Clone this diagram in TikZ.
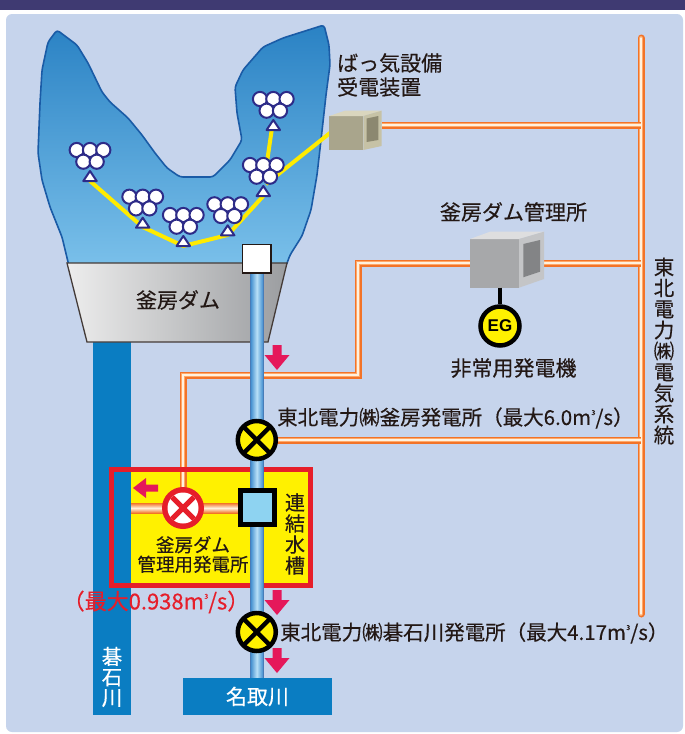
\documentclass[tikz,border=0pt]{standalone}
\usepackage{fontspec}
\setmainfont{Noto Sans CJK JP}[FakeBold=0.4]
\newfontfamily\latinsans{Liberation Sans}
\usetikzlibrary{calc}

\definecolor{topbar}{HTML}{3F3A72}
\definecolor{panel}{HTML}{C6D4EC}
\definecolor{ink}{HTML}{231815}
\definecolor{river}{HTML}{0A7DC2}
\definecolor{resTop}{HTML}{2A82C4}
\definecolor{resBot}{HTML}{7AC0EA}
\definecolor{resEdge}{HTML}{1A5BA6}
\definecolor{damL}{HTML}{EDEDED}
\definecolor{damR}{HTML}{9B9DA0}
\definecolor{pipeEdge}{HTML}{3C8ACD}
\definecolor{pipeCore}{HTML}{B8E0F7}
\definecolor{plOuter}{HTML}{F27328}
\definecolor{plMid}{HTML}{FFA868}
\definecolor{plCore}{HTML}{FFF1DE}
\definecolor{alarmred}{HTML}{E5185A}
\definecolor{sigyellow}{HTML}{FFF100}
\definecolor{framered}{HTML}{E61E2A}
\definecolor{wire}{HTML}{FFEB00}
\definecolor{aerNavy}{HTML}{2D2B88}
\definecolor{tankblue}{HTML}{8ED3F1}

% cubic metre sign
\newcommand\cubm{m\kern0.02em\raisebox{0.48em}{\scriptsize 3}}

\tikzset{
  powerline/.style={line width=7pt, draw=plOuter,
    postaction={draw=plMid, line width=4pt},
    postaction={draw=plCore, line width=1.4pt}},
  lbl/.style={text=ink, inner sep=0pt, font=\fontsize{21}{24}\selectfont},
  vert/.style={inner sep=0pt, align=center, font=\fontsize{20.5}{21}\selectfont},
  aerator/.pic={
    \foreach \p in {(-13.3,0),(0,0),(13.3,0),(-6.7,11.7),(6.7,11.7)}
      \filldraw[fill=white, draw=aerNavy, line width=2pt] \p circle[radius=7.1pt];
    \filldraw[fill=white, draw=aerNavy, line width=2pt, line join=round]
      (0,21) -- (6.7,31) -- (-6.7,31) -- cycle;
  },
  downarr/.pic={
    \fill[alarmred] (-4.5,0) -- (4.5,0) -- (4.5,10) -- (12.5,10) -- (0,25)
      -- (-12.5,10) -- (-4.5,10) -- cycle;
  },
  leftarr/.pic={
    \fill[alarmred] (0,-3.5) -- (0,3.5) -- (-12,3.5) -- (-12,10) -- (-25,0)
      -- (-12,-10) -- (-12,-3.5) -- cycle;
  },
  xgen/.pic={
    \fill[sigyellow] (0,0) circle[radius=19pt];
    \draw[black, line width=4.5pt] (-13.4,-13.4) -- (13.4,13.4) (-13.4,13.4) -- (13.4,-13.4);
    \draw[black, line width=4.5pt] (0,0) circle[radius=19pt];
  },
  redgen/.pic={
    \fill[framered] (0,0) circle[radius=21pt];
    \fill[white] (0,0) circle[radius=15.5pt];
    \draw[framered, line width=5pt] (-11,-11) -- (11,11) (-11,11) -- (11,-11);
  }
}

\begin{document}
\begin{tikzpicture}[x=1pt, y=-1pt]
\useasboundingbox (0,0) rectangle (685,734);

% frame
\fill[white] (0,0) rectangle (685,734);
\fill[topbar] (0,0) rectangle (685,9.5);
\fill[panel, rounded corners=6pt] (6,14) rectangle (683,732);

% key points
\coordinate (busT) at (641,38);
\coordinate (busB) at (641,614);
\coordinate (recvR) at (382,125);
\coordinate (officeR) at (544,263);
\coordinate (officeL) at (470,263);
\coordinate (gen1) at (256.8,440);
\coordinate (gen2) at (256.8,632);
\coordinate (mgen) at (183,508);
\coordinate (tank) at (257.5,507.5);
\coordinate (intake) at (256.8,258.5);

% Goishi river
\fill[river] (93,342) rectangle (131,715);
\node[vert, text=white, font=\fontsize{20.5}{20.5}\selectfont] (goishi) at (112,677) {碁\\石\\川};

% yellow plant box
\fill[sigyellow] (131,469) rectangle (311,586);

% power lines
\draw[powerline, line cap=round] (busT) -- (busB);
\draw[powerline] (recvR) -- (recvR -| busT);
\draw[powerline] (officeR) -- (officeR -| busT);
\draw[powerline] (officeL) -- (358,263) -- (358,375) -- (183,375) -- (mgen);
\draw[powerline] (gen1) -- (gen1 -| busT);

% pipe from connection tank to management generator
\path[top color=plOuter, bottom color=plOuter, middle color=plCore] (131,503) rectangle (240,513);

% red frame
\draw[framered, line width=5pt] (111.8,469.2) rectangle (310.8,585.8);
\pic (mgenpic) at (mgen) {redgen};
\pic (arrL) at (158,488) {leftarr};

% reservoir
\path[top color=resTop, bottom color=resBot, draw=resEdge, line width=1.6pt, rounded corners=3pt]
  (57,30) -- (77,45) -- (88,63) -- (102,92) -- (110,102) -- (128,118) -- (142,135)
  -- (155,153) -- (167,168) -- (180,177) -- (213,177) -- (230,160) -- (242,140)
  -- (237,113) -- (235,87) -- (243,70) -- (263,47) -- (283,38) -- (324,25)
  -- (329,45) -- (330,65) -- (326,95) -- (321,140) -- (317,175) -- (311,210)
  -- (302,236) -- (290,255) -- (286,266) -- (69,266) -- (62,237) -- (50,207)
  -- (42,180) -- (38,153) -- (40,103) -- (42,70) -- (48,42) -- cycle;

% aeration wiring
\draw[wire, line width=4pt, line join=round]
  (90,181) -- (142.7,227) -- (183.3,246) -- (227.7,235) -- (263.3,196);
\draw[wire, line width=4pt] (272,128) -- (267,162);
\draw[wire, line width=4pt] (266,184) -- (335,129);

% aerators
\pic (a1) at (90,150) {aerator};
\pic (a2) at (142.7,196.7) {aerator};
\pic (a3) at (183.3,215) {aerator};
\pic (a4) at (227.7,204.3) {aerator};
\pic (a5) at (263.3,165) {aerator};
\pic (a6) at (273.3,99) {aerator};

% dam
\path[left color=damL, right color=damR, draw=ink!85, line width=1.3pt]
  (67,263) -- (287,263) -- (268,342) -- (87,342) -- cycle;
\node[lbl] (damlbl) at (178,300) {釜房ダム};

% aeration power receiver
\fill[fill={rgb,255:red,169;green,165;blue,140}] (329.3,116) rectangle (363.3,150);
\fill[fill={rgb,255:red,218;green,214;blue,190}] (329.3,116) -- (345,110.7) -- (381.7,110.7) -- (363.3,116) -- cycle;
\fill[fill={rgb,255:red,198;green,194;blue,166}] (363.3,116) -- (381.7,110.7) -- (381.7,146) -- (363.3,150) -- cycle;
\fill[fill={rgb,255:red,140;green,136;blue,112}] (366.7,118.5) -- (378.3,116) -- (378.3,140) -- (366.7,142) -- cycle;
\node[lbl, anchor=west, align=left] (recvlbl) at (337,75) {ばっ気設備\\受電装置};

% dam management office
\fill[fill={rgb,255:red,167;green,168;blue,170}] (470,239) rectangle (519,287.7);
\fill[fill={rgb,255:red,222;green,222;blue,223}] (470,239) -- (490,231.7) -- (544,231.7) -- (519,239) -- cycle;
\fill[fill={rgb,255:red,196;green,197;blue,199}] (519,239) -- (544,231.7) -- (544,279) -- (519,287.7) -- cycle;
\fill[fill={rgb,255:red,131;green,132;blue,134}] (523.3,244) -- (540,240) -- (540,271.7) -- (523.3,277.3) -- cycle;
\node[lbl] (officelbl) at (513.5,212) {釜房ダム管理所};

% emergency generator
\node[circle, fill=sigyellow, draw=black, line width=4.5pt, minimum size=39pt, inner sep=0pt,
  font=\latinsans\bfseries\fontsize{17}{17}\selectfont] (eg) at (500,326) {EG};
\draw[black, line width=4.5pt] (500,287.7) -- (eg.north);
\node[lbl] (eglbl) at (513.5,368) {非常用発電機};

% main water conduit
\path[left color=pipeEdge, right color=pipeEdge, middle color=pipeCore]
  (250.3,273) rectangle (263.3,678);
\draw[resEdge!80, line width=0.6pt] (250.3,273) -- (250.3,678) (263.3,273) -- (263.3,678);
\draw[fill=white, draw=ink, line width=1.8pt] (242.5,244.5) rectangle (271,273);

% connection tank
\draw[black, fill=tankblue, line width=5pt] (240.5,490.5) rectangle (274.5,524.5);
\node[vert, text=ink, font=\fontsize{20}{21}\selectfont] (tanklbl) at (295,534) {連\\結\\水\\槽};
\node[lbl, align=center, font=\fontsize{18.5}{19.5}\selectfont] (mgenlbl) at (193,554.5) {釜房ダム\\管理用発電所};

% power stations
\pic (g1) at (gen1) {xgen};
\pic (g2) at (gen2) {xgen};

% flow arrows
\pic at (277,345) {downarr};
\pic at (277,590) {downarr};
\pic at (277,648) {downarr};

% Natori river
\node[fill=river, minimum width=149pt, minimum height=37pt, inner sep=0pt, text=white,
  font=\fontsize{21}{21}\selectfont] (natori) at (257.5,696.5) {名取川};

% labels
\node[lbl, anchor=west, font=\fontsize{20.5}{24}\selectfont] (g1lbl) at (277,418)
  {東北電力㈱釜房発電所（最大6.0\cubm/s）};
\node[lbl, anchor=west, font=\fontsize{20.5}{24}\selectfont] (g2lbl) at (280,633)
  {東北電力㈱碁石川発電所（最大4.17\cubm/s）};
\node[vert, text=ink] (gridlbl) at (664,351) {東\\北\\電\\力\\㈱\\電\\気\\系\\統};

% management generator capacity
\node[lbl, text=framered, font=\fontsize{22}{24}\selectfont] (mcaplbl) at (156,602) {（最大0.938\cubm/s）};

\end{tikzpicture}
\end{document}
